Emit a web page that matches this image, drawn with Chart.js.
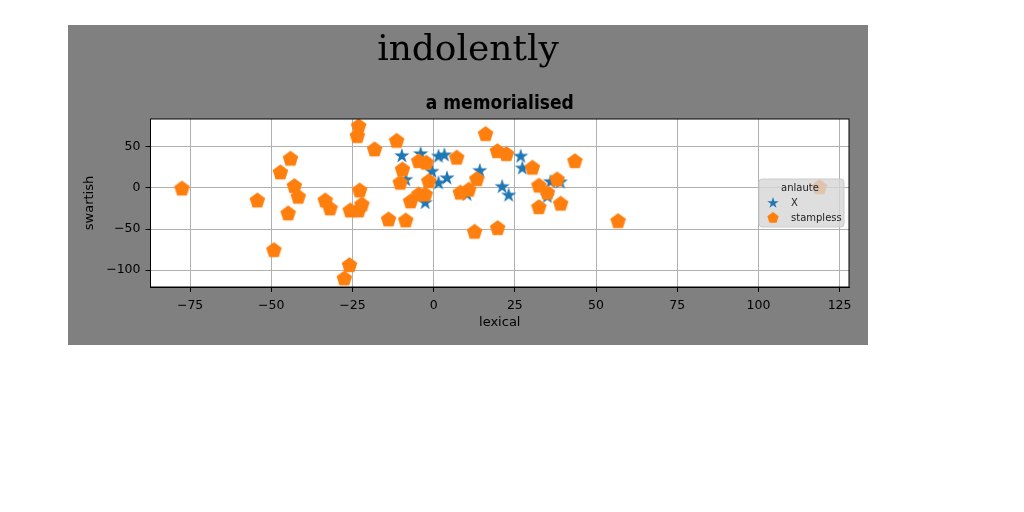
<!DOCTYPE html>
<html>
<head>
<meta charset="utf-8">
<script src="https://cdn.jsdelivr.net/npm/chart.js@4.4.1/dist/chart.umd.min.js"></script>
<style>
  html, body { margin: 0; padding: 0; background: #fff; width: 1024px; height: 512px; overflow: hidden; }
  #fig { position: absolute; left: 68px; top: 25px; width: 800px; height: 320px; background: #808080; }
</style>
</head>
<body>
<div id="fig"><canvas id="chart" width="800" height="320"></canvas></div>
<script>
const xTicks = [-75, -50, -25, 0, 25, 50, 75, 100, 125];
const yTicks = [50, 0, -50, -100];

// series "X" (stars)
const starX = [-9.8, -4.0, 1.5, 3.3, -0.5, 4.1, 1.5, -2.6, 14.2, 21.1, 23.1, 26.8, 27.3, 10.3, 36.0, 39.0, 35.0, -8.6];
const starY = [39.0, 41.5, 38.5, 40.0, 20.0, 12.0, 6.0, -18.0, 21.0, 1.5, -9.0, 38.5, 24.0, -8.0, 7.5, 7.0, -10.5, 10.0];

// series "stampless" (pentagons)
const pentX = [-77.5, -54.3, -44.8, -47.2, -44.1, -42.9, -41.7, -49.2, -33.4, -31.9, -25.9, -27.5,
  -23.1, -23.5, -22.8, -22.1, -23.1, -25.7, -18.2, -13.9, -8.6, -11.4, -9.6, -10.3, -7.1,
  -4.6, -2.3, -1.5, -2.6, -4.6, 7.1, 8.2, 10.8, 13.3, 12.6, 16.0, 19.6, 22.4, 19.7,
  30.4, 43.5, 32.4, 35.0, 38.0, 32.4, 39.1, 56.8, 118.8];
const pentY = [-1.0, -15.5, -31.3, 18.7, 35.4, 2.0, -11.0, -76.0, -15.5, -25.2, -94.4, -110.6,
  75.1, 63.0, -3.3, -20.4, -27.7, -27.7, 46.7, -38.7, -39.9, 57.2, 22.3, 6.1, -16.7,
  32.4, 30.5, 8.0, -8.2, -8.2, 36.6, -6.1, -2.5, 10.5, -53.7, 65.5, 44.6, 41.0, -49.2,
  24.4, 32.4, 2.5, -6.1, 10.1, -23.7, -19.5, -40.7, 0.7];

const BLUE = "#1f77b4";
const ORANGE = "#ff7f0e";

function markerCanvas(kind, r, color) {
  const size = Math.ceil(r * 2 + 2);
  const cv = document.createElement("canvas");
  cv.width = size; cv.height = size;
  const g = cv.getContext("2d");
  const c = size / 2;
  const n = kind === "star" ? 10 : 5;
  g.beginPath();
  for (let i = 0; i < n; i++) {
    const a = -Math.PI / 2 + i * 2 * Math.PI / n;
    const rr = kind === "star" && i % 2 ? r * 0.382 : r;
    const px = c + rr * Math.cos(a), py = c + rr * Math.sin(a);
    if (i === 0) g.moveTo(px, py); else g.lineTo(px, py);
  }
  g.closePath();
  g.fillStyle = color;
  g.fill();
  return cv;
}

const starMark = markerCanvas("star", 8, BLUE);
const pentMark = markerCanvas("pent", 8.2, ORANGE);
const starSmall = markerCanvas("star", 6, BLUE);
const pentSmall = markerCanvas("pent", 6, ORANGE);

const minus = v => String(v).replace("-", "\u2212");

const areaBg = {
  id: "areaBg",
  beforeDraw(chart) {
    const { ctx, chartArea: a } = chart;
    ctx.save();
    ctx.fillStyle = "#fff";
    ctx.fillRect(a.left, a.top, a.right - a.left, a.bottom - a.top);
    ctx.restore();
  },
};

const frameAndLegend = {
  id: "frameAndLegend",
  afterDatasetsDraw(chart) {
    const { ctx, chartArea: a } = chart;
    ctx.save();
    ctx.strokeStyle = "#000";
    ctx.lineWidth = 1;
    ctx.strokeRect(a.left, a.top, a.right - a.left, a.bottom - a.top);

    // legend box, right side near the middle
    const lx = 691, ly = 154, lw = 85, lh = 48;
    ctx.beginPath();
    ctx.roundRect(lx, ly, lw, lh, 3);
    ctx.fillStyle = "rgba(214,214,214,0.8)";
    ctx.fill();
    ctx.strokeStyle = "rgba(200,200,200,0.9)";
    ctx.stroke();

    ctx.fillStyle = "#222";
    ctx.font = "10px 'DejaVu Sans'";
    ctx.textBaseline = "middle";
    ctx.textAlign = "center";
    ctx.fillText(chart.options.plugins.legendTitle, lx + 41, ly + 9);
    ctx.textAlign = "left";
    chart.data.datasets.forEach((ds, i) => {
      const y = ly + 24 + i * 15;
      const m = i === 0 ? starSmall : pentSmall;
      ctx.drawImage(m, lx + 14 - m.width / 2, y - m.height / 2);
      ctx.fillText(ds.label, lx + 32, y);
    });
    ctx.restore();
  },
};

const tickText = { family: "'DejaVu Sans'", size: 12.5 };
const labelText = { family: "'DejaVu Sans'", size: 13 };

new Chart(document.getElementById("chart"), {
  type: "scatter",
  data: {
    datasets: [
      {
        label: "X",
        data: starX.map((x, i) => ({ x, y: starY[i] })),
        pointStyle: starMark,
        pointRadius: 8,
        order: 1,
      },
      {
        label: "stampless",
        data: pentX.map((x, i) => ({ x, y: pentY[i] })),
        pointStyle: pentMark,
        pointRadius: 8,
        order: 0,
      },
    ],
  },
  options: {
    responsive: false,
    animation: false,
    devicePixelRatio: 1,
    layout: { padding: 0 },
    plugins: {
      legend: { display: false },
      tooltip: { enabled: false },
      legendTitle: "anlaute",
      title: {
        display: true,
        text: "indolently",
        color: "#000",
        font: { family: "'DejaVu Serif'", size: 36, weight: "normal" },
        padding: { top: 4, bottom: 1 },
      },
      subtitle: {
        display: true,
        fullSize: false,
        text: "a memorialised",
        color: "#000",
        font: { family: "'Liberation Sans Narrow', 'DejaVu Sans Condensed', 'DejaVu Sans'", size: 19, weight: "bold" },
        padding: { top: 19, bottom: 4 },
      },
    },
    scales: {
      x: {
        type: "linear",
        min: -87.2,
        max: 127.9,
        afterBuildTicks: s => { s.ticks = xTicks.map(v => ({ value: v })); },
        afterFit: s => { s.height = 58; },
        ticks: { color: "#000", font: tickText, padding: 6, maxRotation: 0, callback: minus },
        grid: { color: "#b0b0b0", tickColor: "#000", tickLength: 5, drawTicks: true },
        border: { color: "#000", width: 1 },
        title: { display: true, text: "lexical", color: "#000", font: labelText, padding: { top: 15, bottom: 15 } },
      },
      y: {
        type: "linear",
        min: -120.7,
        max: 84.1,
        afterBuildTicks: s => { s.ticks = yTicks.map(v => ({ value: v })); },
        afterFit: s => { s.width = 82.5; },
        ticks: { color: "#000", font: tickText, padding: 5, callback: minus },
        grid: { color: "#b0b0b0", tickColor: "#000", tickLength: 5, drawTicks: true },
        border: { color: "#000", width: 1 },
        title: { display: true, text: "swartish", color: "#000", font: labelText, padding: { top: 14, bottom: 14 } },
      },
      // empty right-hand strip so the figure title stays centred on the whole figure
      pad: {
        type: "linear",
        position: "right",
        display: true,
        afterFit: s => { s.width = 19; },
        ticks: { display: false },
        grid: { display: false, drawTicks: false },
        border: { display: false },
      },
    },
  },
  plugins: [areaBg, frameAndLegend],
});
</script>
</body>
</html>
